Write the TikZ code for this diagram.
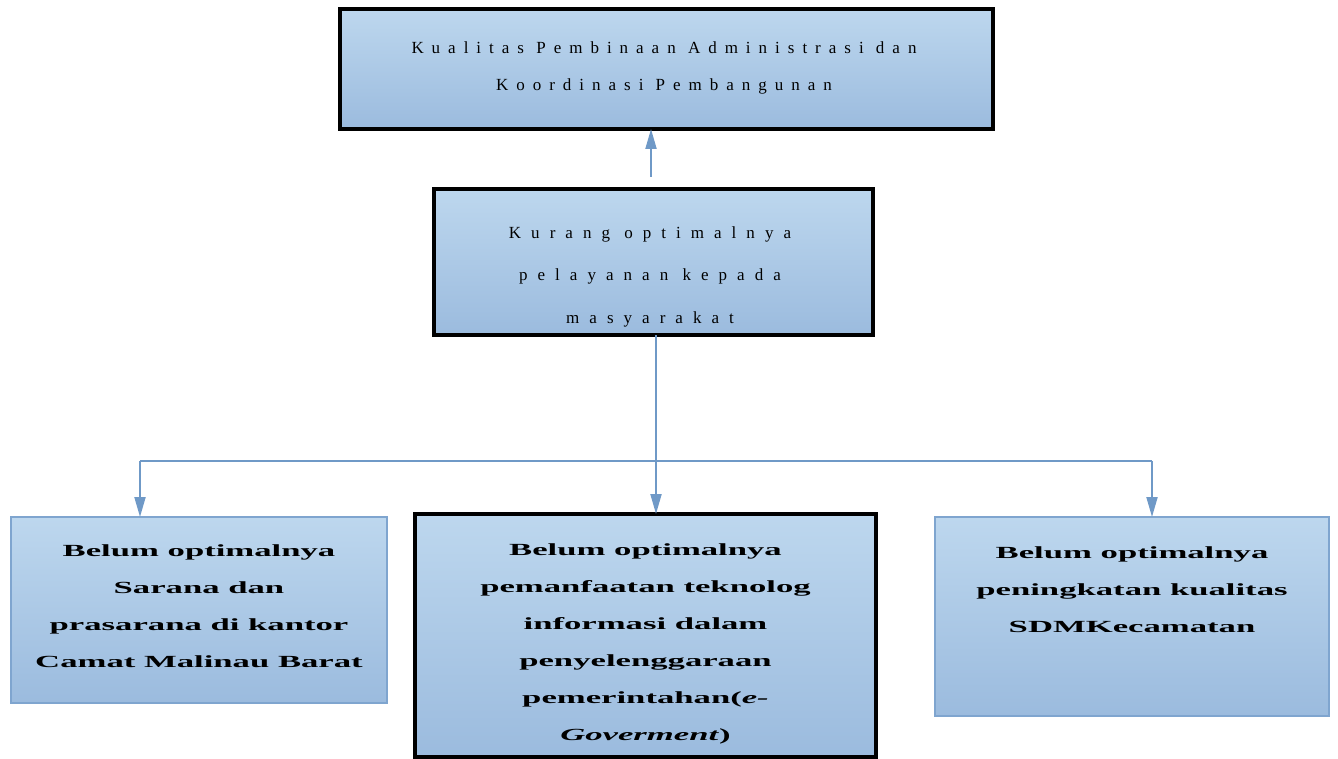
\documentclass[tikz,border=0pt]{standalone}
\usepackage{fontspec}
\setmainfont{Liberation Serif}
\newfontfamily\spacedA[LetterSpace=47]{Liberation Serif}
\newfontfamily\spacedB[LetterSpace=59]{Liberation Serif}
\newfontfamily\widefont[FakeStretch=2.04]{Liberation Serif}
\usetikzlibrary{arrows.meta}
\definecolor{connblue}{HTML}{6F99C7}
\definecolor{edgeblue}{HTML}{7FA5CF}
\definecolor{filltop}{HTML}{BDD7EE}
\definecolor{fillbot}{HTML}{9BBBDE}
\tikzset{
  box/.style={rectangle, inner sep=0pt, outer sep=0pt, top color=filltop, bottom color=fillbot},
  heavybox/.style={box, draw=black, line width=4.2pt},
  lightbox/.style={box, draw=edgeblue, line width=2pt},
  conn/.style={draw=connblue, line width=2pt},
  arr/.style={-{Triangle[width=11pt,length=20pt]}},
  toptxt/.style={inner sep=0pt, align=center, font=\spacedA\fontsize{17}{37}\selectfont},
  midtxt/.style={inner sep=0pt, align=center, font=\spacedB\fontsize{17}{42.5}\selectfont},
  lowtxt/.style={inner sep=0pt, align=center, font=\widefont\bfseries\fontsize{17}{37}\selectfont}
}
\begin{document}
\begin{tikzpicture}[x=1pt,y=-1pt]
\useasboundingbox (0,0) rectangle (1338,759);
% boxes
\node[heavybox, minimum width=653pt, minimum height=120pt] (top) at (666.5,69) {};
\node[heavybox, minimum width=439pt, minimum height=146pt] (mid) at (653.5,262) {};
\node[lightbox, minimum width=376pt, minimum height=186pt] (left) at (199,610) {};
\node[heavybox, minimum width=461pt, minimum height=243pt] (center) at (645.5,635.5) {};
\node[lightbox, minimum width=394pt, minimum height=199pt] (right) at (1132,616.5) {};
% texts
\node[toptxt] (toptext) at (664,67.5) {Kualitas Pembinaan Administrasi dan\\Koordinasi Pembangunan};
\node[midtxt] (midtext) at (650,276.5) {Kurang optimalnya\\pelayanan kepada\\masyarakat};
\node[lowtxt] (lefttext) at (199,606.5) {Belum optimalnya\\Sarana dan\\prasarana di kantor\\Camat Malinau Barat};
\node[lowtxt] (centertext) at (645.5,643.5) {Belum optimalnya\\pemanfaatan teknolog\\informasi dalam\\penyelenggaraan\\pemerintahan(\textit{e-}\\\textit{Goverment})};
\node[lowtxt] (righttext) at (1132,590) {Belum optimalnya\\peningkatan kualitas\\SDMKecamatan};
% connectors
\coordinate (up) at (651,177);
\coordinate (hl) at (140,461);
\coordinate (hm) at (656,461);
\coordinate (hr) at (1152,461);
\draw[conn, arr] (up) -- (top.south -| up);
\draw[conn] (mid.south -| hm) -- (hm);
\draw[conn] (hl) -- (hr);
\draw[conn, arr] (hl) -- (left.north -| hl);
\draw[conn, arr] (hm) -- (center.north -| hm);
\draw[conn, arr] (hr) -- (right.north -| hr);
\end{tikzpicture}
\end{document}
